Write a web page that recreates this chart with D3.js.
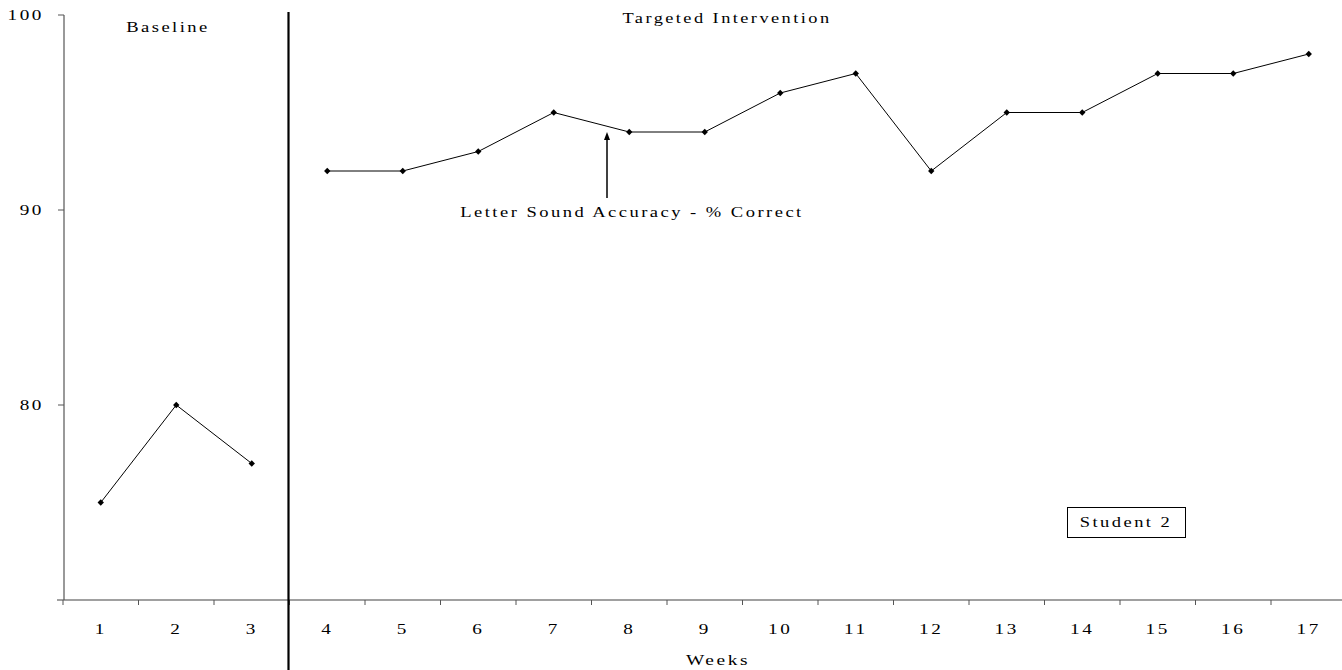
<!DOCTYPE html>
<html><head><meta charset="utf-8">
<script src="https://cdn.jsdelivr.net/npm/d3@7"></script>
<style>body{margin:0;background:#fff}svg{display:block}text{font-family:"Liberation Serif","Times New Roman",serif;fill:#000}</style>
</head><body><svg width="1342" height="670"></svg>
<script>
const weeks = [1,2,3,4,5,6,7,8,9,10,11,12,13,14,15,16,17];
const accuracy = [75,80,77,92,92,93,95,94,94,96,97,92,95,95,97,97,98];
const baselineWeeks = [1,2,3];
const yTicks = [80,90,100];
const phaseLabels = ["Baseline","Targeted Intervention"];

const STRETCH = 1.62;
function stretch(sel){
  sel.each(function(){
    const w = this.getComputedTextLength();
    d3.select(this).attr("letter-spacing","2px").attr("textLength", w*STRETCH).attr("lengthAdjust","spacingAndGlyphs");
  });
}

const svg = d3.select("svg");
const x = d3.scaleBand().domain(weeks).range([63, 63+17*75.5]);
const y = d3.scaleLinear().domain([70,100]).range([600,15]);

// x axis
const xa = svg.append("g").attr("transform","translate(0,600)");
xa.append("line").attr("x1",57).attr("x2",1342).attr("stroke","#808080").attr("stroke-width",1.5);
xa.selectAll(".t").data(d3.range(0,18)).join("line")
  .attr("x1",i=>x.range()[0]+i*x.step()).attr("x2",i=>x.range()[0]+i*x.step())
  .attr("y1",0).attr("y2",5).attr("stroke","#555").attr("stroke-width",1);
xa.selectAll("text").data(weeks).join("text")
  .attr("x",d=>x(d)+x.bandwidth()/2).attr("y",34).attr("text-anchor","middle")
  .attr("font-size",15).text(d=>d).call(stretch);

// y axis
const ya = svg.append("g");
ya.append("line").attr("x1",64).attr("x2",64).attr("y1",y(100)).attr("y2",600).attr("stroke","#555").attr("stroke-width",1.2);
ya.selectAll(".t").data(yTicks).join("line")
  .attr("x1",58).attr("x2",64).attr("y1",d=>y(d)).attr("y2",d=>y(d)).attr("stroke","#555");
ya.selectAll("text").data(yTicks).join("text")
  .attr("x",44).attr("y",d=>y(d)+5).attr("text-anchor","end").attr("font-size",15).text(d=>d).call(stretch);

// phase line
const px = x(4);
svg.append("line").attr("x1",px-1).attr("x2",px-1).attr("y1",12).attr("y2",670).attr("stroke","#000").attr("stroke-width",2.2);

// data lines
const pts = weeks.map((w,i)=>({w, v:accuracy[i]}));
const line = d3.line().x(d=>x(d.w)+x.bandwidth()/2).y(d=>y(d.v));
const segs = [pts.filter(d=>baselineWeeks.includes(d.w)), pts.filter(d=>!baselineWeeks.includes(d.w))];
svg.selectAll(".seg").data(segs).join("path").attr("d",line).attr("fill","none").attr("stroke","#000").attr("stroke-width",1);
svg.selectAll(".m").data(pts).join("path")
  .attr("d",d3.symbol(d3.symbolDiamond2 || d3.symbolDiamond, 26))
  .attr("transform",d=>`translate(${x(d.w)+x.bandwidth()/2},${y(d.v)})`).attr("fill","#000");

// labels
svg.append("text").attr("x",168).attr("y",32).attr("text-anchor","middle").attr("font-size",15).text(phaseLabels[0]).call(stretch);
svg.append("text").attr("x",727).attr("y",23).attr("text-anchor","middle").attr("font-size",15).text(phaseLabels[1]).call(stretch);
svg.append("text").attr("x",718).attr("y",665).attr("text-anchor","middle").attr("font-size",15).text("Weeks").call(stretch);

// annotation arrow
svg.append("line").attr("x1",607).attr("x2",607).attr("y1",198).attr("y2",138).attr("stroke","#000").attr("stroke-width",1.5);
svg.append("path").attr("d","M604,140 L607,132 L610,140 Z").attr("fill","#000");
svg.append("text").attr("x",632).attr("y",217).attr("text-anchor","middle").attr("font-size",15).text("Letter Sound Accuracy - % Correct").call(stretch);

// student box
svg.append("rect").attr("x",1067.5).attr("y",507.5).attr("width",118).attr("height",30).attr("fill","#fff").attr("stroke","#000").attr("stroke-width",1);
svg.append("text").attr("x",1126).attr("y",527).attr("text-anchor","middle").attr("font-size",15).text("Student 2").call(stretch);
</script></body></html>
